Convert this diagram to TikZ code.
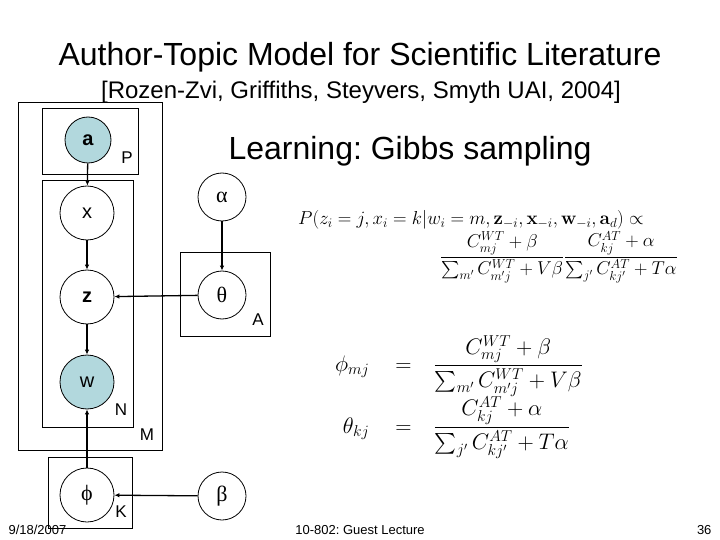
\RequirePackage{fix-cm}
\documentclass[tikz,border=0pt]{standalone}
\usepackage{amsmath}
\usepackage[no-math]{fontspec}
\setmainfont{Liberation Sans}
\newfontfamily\greekfont{Liberation Serif}
\usetikzlibrary{positioning, arrows.meta}
\frenchspacing
\tikzset{
  var/.style={circle, draw, line width=0.8pt, minimum size=54pt, inner sep=0pt, font=\fontsize{20}{22}\selectfont},
  obs/.style={var, fill=obsblue},
  hyper/.style={circle, draw, line width=0.8pt, minimum size=48pt, inner sep=0pt, font=\greekfont\fontsize{22}{24}\selectfont},
  plate/.style={draw, line width=0.8pt},
  platelabel/.style={font=\fontsize{17}{19}\selectfont},
  edge/.style={line width=1.3pt, -{Latex[length=5pt,width=4.5pt]}},
  footer/.style={font=\fontsize{13}{15}\selectfont}}
\definecolor{obsblue}{RGB}{178,216,221}

\begin{document}
\begin{tikzpicture}[x=1pt,y=-1pt]
\useasboundingbox (0,0) rectangle (720,540);
% titles
\node (title) at (360,57) {\fontsize{32}{36}\selectfont Author-Topic Model for Scientific Literature};
\node (cite) at (361,92) {\fontsize{24}{28}\selectfont [Rozen-Zvi, Griffiths, Steyvers, Smyth UAI, 2004]};
\node (learn) at (410,151) {\fontsize{32}{36}\selectfont Learning: Gibbs sampling};
% plates
\draw [plate] (18,102) rectangle (162,450);
\draw [plate] (42,108) rectangle (138,174);
\draw [plate] (42,180) rectangle (133,427);
\draw [plate] (180,252) rectangle (270,336);
\draw [plate] (48,457) rectangle (132,528);
\node [platelabel] (P) at (127,158) {P};
\node [platelabel] (A) at (258,320) {A};
\node [platelabel] (N) at (121,410) {N};
\node [platelabel] (M) at (147,435) {M};
\node [platelabel] (K) at (121,512) {K};
% variables
\node [obs, minimum size=46pt] (a) at (88,140) {\textbf{a}};
\node [var] (x) at (87,213) {x};
\node [var] (z) at (87,297) {\textbf{z}};
\node [obs] (w) at (87,382) {w};
\node [var, font=\greekfont\fontsize{22}{24}\selectfont] (phi) at (87,495) {ϕ};
\node [hyper] (alpha) at (222,197) {α};
\node [hyper] (theta) at (222,295) {θ};
\node [hyper] (beta) at (222,496) {β};
\draw [edge] (a) -- (x);
\draw [edge] (x) -- (z);
\draw [edge] (z) -- (w);
\draw [edge] (phi) -- (w);
\draw [edge] (alpha) -- (theta);
\draw [edge] (theta) -- (z);
\draw [edge] (beta) -- (phi);
% equations
\node [anchor=west, inner sep=0pt, font=\fontsize{18.8}{22}\selectfont] (post) at (298,220)
  {$P(z_i = j, x_i = k | w_i = m, \mathbf{z}_{-i}, \mathbf{x}_{-i}, \mathbf{w}_{-i}, \mathbf{a}_d) \propto$};
\node [anchor=east, inner sep=0pt, font=\fontsize{18.6}{22}\selectfont] (frac) at (678,257)
  {$\dfrac{C^{WT}_{mj} + \beta}{\sum_{m'} C^{WT}_{m'j} + V\beta}\dfrac{C^{AT}_{kj} + \alpha}{\sum_{j'} C^{AT}_{kj'} + T\alpha}$};
\node [anchor=west, inner sep=0pt, font=\fontsize{22.5}{26}\selectfont] (est) at (335,397)
  {$\begin{array}{@{}r@{\hspace{26pt}}c@{\hspace{22pt}}l@{}}
    \phi_{mj} & = & \dfrac{C^{WT}_{mj} + \beta}{\sum_{m'} C^{WT}_{m'j} + V\beta} \\[10pt]
    \theta_{kj} & = & \dfrac{C^{AT}_{kj} + \alpha}{\sum_{j'} C^{AT}_{kj'} + T\alpha}
  \end{array}$};
% footer
\node [footer, anchor=west] (date) at (5,530) {9/18/2007};
\node [footer] (lecture) at (360,530) {10-802: Guest Lecture};
\node [footer, anchor=east] (page) at (715,530) {36};
\end{tikzpicture}
\end{document}
